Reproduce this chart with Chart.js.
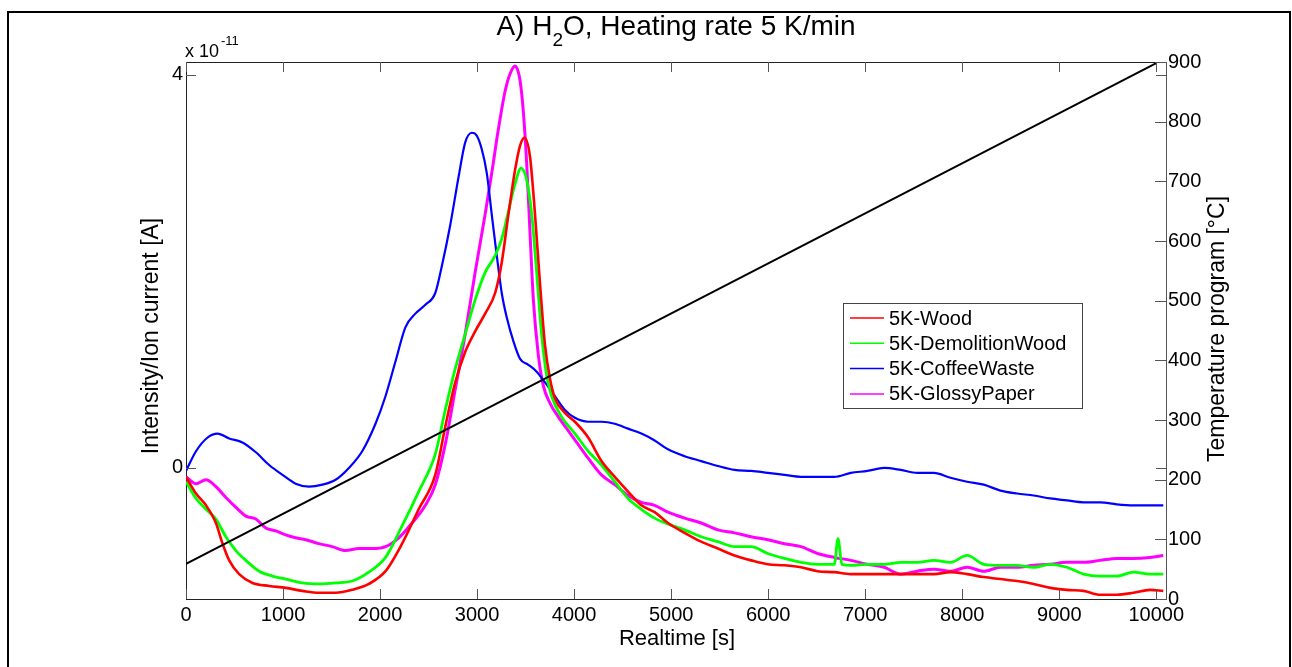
<!DOCTYPE html>
<html lang="en">
<head>
    <meta charset="UTF-8">
    <title>H2O, Heating rate 5 K/min</title>
    <style>
        html, body {
            margin: 0;
            padding: 0;
            background-color: #ffffff;
        }
        #wrap {
            width: 1292px;
            height: 667px;
            position: relative;
        }
    </style>
</head>
<body>
    <div id="wrap"><canvas id="myChart" width="1292" height="667"></canvas></div>

    <script src="https://cdn.jsdelivr.net/npm/chart.js"></script>
    <script>
        // values, signal in units of 1e-11 A
        var woodTime = [0, 103, 206, 308, 377, 445, 548, 685, 857, 1028, 1199, 1370, 1542, 1713, 1884, 2056, 2227, 2398,
            2569, 2672, 2775, 2877, 2980, 3083, 3186, 3254, 3323, 3391, 3443, 3487, 3545, 3597, 3648, 3700, 3751, 3802, 3905, 4008, 4145, 4282, 4419, 4556, 4693, 4830, 4967,
            5139, 5310, 5482, 5653, 5824, 5996, 6167, 6338, 6509, 6681, 6852, 7023, 7195, 7366, 7537,
            7708, 7879, 8050, 8222, 8393, 8565, 8736, 8907, 9078, 9250, 9421, 9592, 9764, 9935, 10072];
        var woodSignal = [-0.09, -0.26, -0.38, -0.56, -0.77, -0.94, -1.08, -1.17, -1.20, -1.22, -1.25, -1.27, -1.27, -1.24, -1.18, -1.05, -0.77, -0.42,
            -0.07, 0.42, 0.87, 1.18, 1.39, 1.57, 1.78, 2.09, 2.58, 3.03, 3.28, 3.36, 3.17, 2.58, 1.88, 1.25, 0.91, 0.71, 0.56, 0.47, 0.31, 0.07, -0.09, -0.24, -0.38, -0.45, -0.56,
            -0.66, -0.75, -0.82, -0.89, -0.94, -0.98, -0.99, -1.01, -1.05, -1.06, -1.08, -1.08, -1.08, -1.08, -1.08,
            -1.08, -1.06, -1.08, -1.11, -1.13, -1.15, -1.18, -1.22, -1.24, -1.25, -1.29, -1.29, -1.27, -1.24, -1.25];

        var demoTime = [0, 103, 206, 308, 411, 514, 617, 754, 891, 1028, 1199, 1370, 1542, 1713, 1884, 2056, 2227, 2398,
            2569, 2672, 2775, 2877, 2980, 3083, 3186, 3254, 3323, 3391, 3453, 3511, 3563, 3614, 3665, 3717, 3768, 3871, 4008, 4145, 4282, 4419, 4556, 4693, 4830, 4967,
            5139, 5310, 5482, 5653, 5824, 5996, 6167, 6338, 6509, 6681, 6720, 6760, 6852, 7023, 7195, 7366, 7537,
            7708, 7879, 8050, 8222, 8393, 8565, 8736, 8907, 9078, 9250, 9421, 9592, 9764, 9935, 10072];
        var demoSignal = [-0.14, -0.31, -0.42, -0.52, -0.70, -0.84, -0.94, -1.05, -1.10, -1.13, -1.17, -1.18, -1.17, -1.15, -1.06, -0.91, -0.59, -0.24,
            0.14, 0.59, 1.01, 1.36, 1.71, 1.99, 2.16, 2.33, 2.61, 2.89, 3.05, 2.93, 2.58, 1.99, 1.36, 0.94, 0.73, 0.52, 0.35, 0.17, 0.03, -0.14, -0.31, -0.42, -0.51, -0.57,
            -0.63, -0.70, -0.75, -0.80, -0.80, -0.87, -0.92, -0.96, -0.98, -0.98, -0.72, -0.98, -0.99, -0.98, -0.98, -0.96, -0.96,
            -0.94, -0.96, -0.89, -0.98, -0.99, -0.99, -1.01, -0.98, -1.01, -1.08, -1.10, -1.10, -1.06, -1.08, -1.08];

        var coffeeTime = [0, 103, 223, 325, 445, 582, 720, 857, 994, 1130, 1268, 1405, 1542, 1679, 1816, 1953, 2056, 2158, 2261, 2364, 2467,
            2569, 2638, 2723, 2809, 2877, 2946, 2997, 3049, 3100, 3151, 3203, 3254, 3306, 3374, 3443, 3528, 3614, 3700, 3802, 3905, 4008, 4145, 4282, 4419, 4556, 4693, 4830, 4967,
            5139, 5310, 5482, 5653, 5824, 5996, 6167, 6338, 6509, 6681, 6852, 7023, 7195, 7366, 7537,
            7708, 7879, 8050, 8222, 8393, 8565, 8736, 8907, 9078, 9250, 9421, 9592, 9764, 9935, 10072];
        var coffeeSignal = [-0.03, 0.17, 0.31, 0.35, 0.30, 0.26, 0.16, 0.03, -0.07, -0.16, -0.19, -0.17, -0.12, 0.0, 0.17, 0.45, 0.73, 1.08, 1.43, 1.57, 1.66,
            1.78, 2.06, 2.47, 2.96, 3.31, 3.41, 3.38, 3.24, 3.0, 2.58, 2.16, 1.78, 1.53, 1.29, 1.11, 1.05, 0.98, 0.87, 0.73, 0.59, 0.51, 0.47, 0.47, 0.45, 0.40, 0.35, 0.28, 0.19,
            0.12, 0.07, 0.02, -0.02, -0.03, -0.05, -0.07, -0.09, -0.09, -0.09, -0.05, -0.03, 0.0, -0.02, -0.05,
            -0.05, -0.10, -0.14, -0.17, -0.23, -0.26, -0.28, -0.31, -0.33, -0.35, -0.35, -0.37, -0.38, -0.38, -0.38];

        var paperTime = [0, 103, 206, 308, 411, 514, 617, 720, 822, 925, 1028, 1130, 1233, 1370, 1507, 1644, 1782, 1919, 2056, 2193, 2330, 2467,
            2569, 2672, 2775, 2877, 2980, 3083, 3151, 3220, 3288, 3340, 3391, 3443, 3477, 3511, 3545, 3580, 3631, 3682, 3751, 3837, 3939, 4042, 4145, 4282, 4419, 4556, 4693, 4830, 4967,
            5139, 5310, 5482, 5653, 5824, 5996, 6167, 6338, 6509, 6681, 6852, 7023, 7195, 7366, 7537,
            7708, 7879, 8050, 8222, 8393, 8565, 8736, 8907, 9078, 9250, 9421, 9592, 9764, 9935, 10072];
        var paperSignal = [-0.09, -0.16, -0.12, -0.19, -0.30, -0.40, -0.49, -0.52, -0.61, -0.64, -0.68, -0.71, -0.73, -0.77, -0.80, -0.84, -0.82, -0.82, -0.80, -0.71, -0.56, -0.38,
            -0.17, 0.24, 0.80, 1.36, 1.99, 2.58, 3.00, 3.45, 3.83, 4.01, 4.09, 3.94, 3.62, 3.10, 2.40, 1.71, 1.15, 0.84, 0.66, 0.52, 0.38, 0.24, 0.10, -0.07, -0.17, -0.28, -0.35, -0.38, -0.45,
            -0.51, -0.56, -0.63, -0.66, -0.70, -0.73, -0.77, -0.80, -0.87, -0.91, -0.94, -0.98, -1.01, -1.08, -1.05,
            -1.03, -1.05, -1.01, -1.05, -1.01, -1.01, -0.99, -0.98, -0.96, -0.96, -0.94, -0.92, -0.92, -0.91, -0.89];

        // temperature program (right axis)
        var tempTime = [0, 10000];
        var tempValue = [59, 898];

        var seriesLabels = ['5K-Wood', '5K-DemolitionWood', '5K-CoffeeWaste', '5K-GlossyPaper'];
        var seriesColors = ['#ff0000', '#00ff00', '#0000ff', '#ff00ff'];

        var xTicks = [0, 1000, 2000, 3000, 4000, 5000, 6000, 7000, 8000, 9000, 10000];
        var leftTicks = [0, 4];
        var rightTicks = [0, 100, 200, 300, 400, 500, 600, 700, 800, 900];

        var FONT = '"Liberation Sans", Arial, Helvetica, sans-serif';

        function pairs(xs, ys) {
            return xs.map(function (x, i) { return { x: x, y: ys[i] }; });
        }

        var figurePlugin = {
            id: 'figure',
            beforeDraw: function (chart) {
                var ctx = chart.ctx;
                ctx.save();
                ctx.fillStyle = '#ffffff';
                ctx.fillRect(0, 0, chart.width, chart.height);
                ctx.restore();
            },
            afterDraw: function (chart) {
                var ctx = chart.ctx;
                var area = chart.chartArea;
                var sx = chart.scales.x, sy = chart.scales.y, sy2 = chart.scales.y2;
                ctx.save();

                // outer figure frame
                ctx.strokeStyle = '#000000';
                ctx.lineWidth = 2;
                ctx.strokeRect(8, 12, 1282, 700);

                // top edge of the axes box
                ctx.lineWidth = 1;
                ctx.strokeStyle = '#222222';
                ctx.beginPath();
                ctx.moveTo(area.left, Math.round(area.top) + 0.5);
                ctx.lineTo(area.right, Math.round(area.top) + 0.5);
                ctx.stroke();

                // inward tick marks
                ctx.strokeStyle = '#555555';
                function line(x1, y1, x2, y2) {
                    ctx.beginPath();
                    ctx.moveTo(x1, y1);
                    ctx.lineTo(x2, y2);
                    ctx.stroke();
                }
                sx.ticks.forEach(function (t) {
                    var px = Math.round(sx.getPixelForValue(t.value)) + 0.5;
                    line(px, area.bottom, px, area.bottom - 10);
                    line(px, area.top, px, area.top + 10);
                });
                sy.ticks.forEach(function (t) {
                    var py = Math.round(sy.getPixelForValue(t.value)) + 0.5;
                    line(area.left, py, area.left + 10, py);
                    line(area.right, py, area.right - 10, py);
                });
                sy2.ticks.forEach(function (t) {
                    var py = Math.round(sy2.getPixelForValue(t.value)) + 0.5;
                    line(area.right, py, area.right - 11, py);
                });

                ctx.fillStyle = '#000000';
                ctx.textBaseline = 'alphabetic';

                // title with subscript
                var big = '28px ' + FONT, sub = '19px ' + FONT;
                ctx.font = big;
                var p1 = 'A) H', p3 = 'O, Heating rate 5 K/min';
                var w1 = ctx.measureText(p1).width, w3 = ctx.measureText(p3).width;
                ctx.font = sub;
                var w2 = ctx.measureText('2').width;
                var tx = 676 - (w1 + w2 + w3) / 2;
                ctx.font = big;
                ctx.textAlign = 'left';
                ctx.fillText(p1, tx, 35);
                ctx.font = sub;
                ctx.fillText('2', tx + w1, 46);
                ctx.font = big;
                ctx.fillText(p3, tx + w1 + w2, 35);

                // exponent label of the left axis
                ctx.font = '18px ' + FONT;
                ctx.fillText('x 10', 185, 57);
                var wx = ctx.measureText('x 10').width;
                ctx.font = '13px ' + FONT;
                ctx.fillText('-11', 185 + wx + 2, 45);

                // axis titles
                ctx.font = '22px ' + FONT;
                ctx.textAlign = 'center';
                ctx.fillText('Realtime [s]', 677, 645);

                ctx.font = '23px ' + FONT;
                ctx.textBaseline = 'middle';
                ctx.save();
                ctx.translate(152, 336);
                ctx.rotate(-Math.PI / 2);
                ctx.fillText('Intensity/Ion current [A]', 0, 0);
                ctx.restore();
                ctx.save();
                ctx.translate(1218, 329);
                ctx.rotate(-Math.PI / 2);
                ctx.fillText('Temperature program [\u00B0C]', 0, 0);
                ctx.restore();

                // legend box
                var lx = 843, ly = 303, lw = 239, lh = 105;
                ctx.fillStyle = '#ffffff';
                ctx.fillRect(lx, ly, lw, lh);
                ctx.strokeStyle = '#444444';
                ctx.lineWidth = 1;
                ctx.strokeRect(lx + 0.5, ly + 0.5, lw, lh);
                ctx.font = '20px ' + FONT;
                ctx.textAlign = 'left';
                ctx.textBaseline = 'middle';
                var items = chart.data.datasets.filter(function (d) { return !d.noLegend; });
                items.forEach(function (d, i) {
                    var ry = 318 + i * 25.3;
                    ctx.strokeStyle = d.borderColor;
                    ctx.lineWidth = 1.5;
                    line(850, ry, 884, ry);
                    ctx.fillStyle = '#000000';
                    ctx.fillText(d.label, 889, ry + 1);
                });

                ctx.restore();
            }
        };

        var signalSets = [
            [woodTime, woodSignal, 2.6],
            [demoTime, demoSignal, 2.8],
            [coffeeTime, coffeeSignal, 2.2],
            [paperTime, paperSignal, 3]
        ].map(function (s, i) {
            return {
                label: seriesLabels[i],
                data: pairs(s[0], s[1]),
                borderColor: seriesColors[i],
                backgroundColor: seriesColors[i],
                borderWidth: s[2],
                pointRadius: 0,
                cubicInterpolationMode: 'monotone',
                yAxisID: 'y',
                order: i + 1
            };
        });

        signalSets.push({
            label: 'Temperature program',
            noLegend: true,
            data: pairs(tempTime, tempValue),
            borderColor: '#000000',
            borderWidth: 2,
            pointRadius: 0,
            yAxisID: 'y2',
            order: 0
        });

        var tickFont = { family: FONT, size: 20 };

        var myChart = new Chart(document.getElementById('myChart'), {
            type: 'line',
            data: { datasets: signalSets },
            plugins: [figurePlugin],
            options: {
                responsive: false,
                animation: false,
                devicePixelRatio: 1,
                layout: { padding: { top: 62, left: 0, right: 0, bottom: 0 } },
                plugins: {
                    legend: { display: false },
                    tooltip: { enabled: false },
                    title: { display: false }
                },
                scales: {
                    x: {
                        type: 'linear',
                        position: 'bottom',
                        min: 0,
                        max: 10100,
                        afterBuildTicks: function (s) { s.ticks = xTicks.map(function (v) { return { value: v }; }); },
                        afterFit: function (s) { s.height = 68; },
                        ticks: { font: tickFont, color: '#000000', padding: 4, maxRotation: 0, autoSkip: false,
                            callback: function (v) { return String(v); } },
                        grid: { display: false, drawTicks: false },
                        border: { display: true, color: '#222222', width: 1 }
                    },
                    y: {
                        type: 'linear',
                        position: 'left',
                        min: -1.333,
                        max: 4.13,
                        afterBuildTicks: function (s) { s.ticks = leftTicks.map(function (v) { return { value: v }; }); },
                        afterFit: function (s) { s.width = 186; },
                        ticks: { font: tickFont, color: '#000000', padding: 3,
                            callback: function (v) { return String(v); } },
                        grid: { display: false, drawTicks: false },
                        border: { display: true, color: '#222222', width: 1 }
                    },
                    y2: {
                        type: 'linear',
                        position: 'right',
                        min: 0,
                        max: 900,
                        afterBuildTicks: function (s) { s.ticks = rightTicks.map(function (v) { return { value: v }; }); },
                        afterFit: function (s) { s.width = 126; },
                        ticks: { font: tickFont, color: '#000000', padding: 2,
                            callback: function (v) { return String(v); } },
                        grid: { display: false, drawTicks: false },
                        border: { display: true, color: '#555555', width: 1 }
                    }
                }
            }
        });
    </script>
</body>
</html>
